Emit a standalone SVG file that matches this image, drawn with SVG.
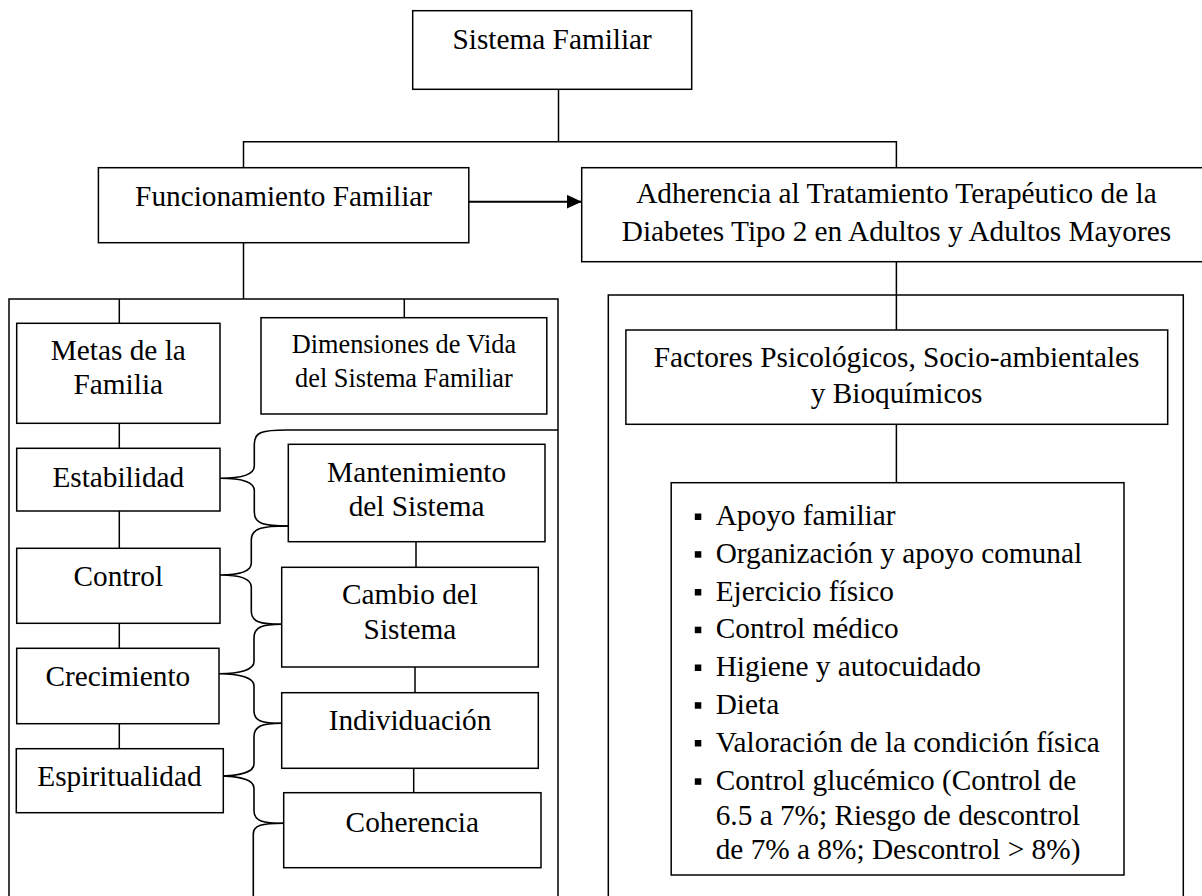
<svg xmlns="http://www.w3.org/2000/svg" width="1202" height="896" viewBox="0 0 1202 896">
<style>
.box{fill:#fff;stroke:#000;stroke-width:1.5}
.ln{fill:none;stroke:#000;stroke-width:1.5}
.br{fill:none;stroke:#000;stroke-width:1.6}
text{font-family:"Liberation Serif","Times New Roman",serif;font-size:29.3px;fill:#000}
.c{text-anchor:middle}
.sm{font-size:26.3px}
.bul{fill:#000}
</style>
<defs>
<marker id="arrow" viewBox="0 0 15 14" refX="15" refY="7" markerWidth="15" markerHeight="14" markerUnits="userSpaceOnUse" orient="auto">
<path d="M0 0 L15 7 L0 14 z" fill="#000"/>
</marker>
</defs>
<rect x="0" y="0" width="1202" height="896" fill="#fff"/>

<g id="connectors">
<path class="ln" d="M558.5 89.3 V141.7 M243.5 167.7 V141.7 H896.4 V167.7"/>
<path class="ln" d="M243.5 242.7 V299"/>
<line x1="469" y1="201.7" x2="581.7" y2="201.7" stroke="#000" stroke-width="2" marker-end="url(#arrow)"/>
<path class="ln" d="M896.4 261.7 V330 M896.4 424.3 V482.7"/>
<path class="ln" d="M119.3 299 V323.3 M404.3 299 V317.7 M119.3 423.3 V448.3 M119.3 511 V548.3 M119.3 623.3 V648.3 M119.3 723.7 V748.7"/>
<path class="ln" d="M416 541.7 V567.3 M415 667 V692.7 M413.7 768.3 V792.7"/>
<path class="br" d="M558 430 H287 C262 430, 254.3 432, 254.3 444 V466 C254.3 474, 242 478.3, 220 478.3 C242 478.3, 254.3 482.6, 254.3 490.6 V512 C254.3 524, 264 526, 288.3 526"/>
<path class="br" d="M288.3 526 C262 526, 251.3 528, 251.3 540 V563 C251.3 571, 240 575, 220 575 C240 575, 251.3 579, 251.3 587 V611 C251.3 622, 260 624.3, 281.7 624.3"/>
<path class="br" d="M281.7 624.3 C262 624.3, 254 627, 254 638 V661.7 C254 669.7, 240 673.7, 219 673.7 C240 673.7, 254 677.7, 254 685.7 V711 C254 721, 262 723.3, 281.7 723.3"/>
<path class="br" d="M281.7 723.3 C262 723.3, 254 726, 254 737 V764 C254 772, 240 776, 218 776 C240 776, 254 780, 254 788 V811 C254 821, 263 823.3, 283.7 823.3"/>
<path class="br" d="M283.7 823.3 C262 823.5, 253.3 825, 253.3 834 V896"/>
</g>

<g id="frame-left">
<path class="ln" d="M9 896 V299 H558 V896"/>
</g>
<g id="frame-right">
<path class="ln" d="M608.3 896 V295 H1183.3 V896"/>
</g>

<g id="sistema-familiar">
<rect class="box" x="412.7" y="10.7" width="279" height="78.6"/>
<text class="c" x="552.2" y="49.3">Sistema Familiar</text>
</g>

<g id="funcionamiento-familiar">
<rect class="box" x="98.4" y="167.7" width="370.4" height="75"/>
<text class="c" x="283.6" y="205.5">Funcionamiento Familiar</text>
</g>

<g id="adherencia">
<rect class="box" x="581.7" y="167.7" width="629" height="94"/>
<text class="c" x="896.4" y="203.3">Adherencia al Tratamiento Terapéutico de la</text>
<text class="c" x="896.4" y="240.7">Diabetes Tipo 2 en Adultos y Adultos Mayores</text>
</g>

<g id="metas">
<rect class="box" x="16.7" y="323.3" width="203.3" height="100"/>
<text class="c" x="118.3" y="360">Metas de la</text>
<text class="c" x="118.3" y="394.3">Familia</text>
</g>

<g id="dimensiones">
<rect class="box" x="261" y="317.7" width="285.8" height="96.3"/>
<text class="c sm" x="403.9" y="352.7">Dimensiones de Vida</text>
<text class="c sm" x="403.9" y="386.7">del Sistema Familiar</text>
</g>

<g id="estabilidad">
<rect class="box" x="16.7" y="448.3" width="203.3" height="62.7"/>
<text class="c" x="118.3" y="486.7">Estabilidad</text>
</g>

<g id="control">
<rect class="box" x="16.7" y="548.3" width="203.3" height="75"/>
<text class="c" x="118.3" y="586">Control</text>
</g>

<g id="crecimiento">
<rect class="box" x="16.7" y="648.3" width="202.3" height="75.4"/>
<text class="c" x="117.8" y="686">Crecimiento</text>
</g>

<g id="espiritualidad">
<rect class="box" x="16.3" y="748.7" width="207" height="64"/>
<text class="c" x="119.5" y="786">Espiritualidad</text>
</g>

<g id="mantenimiento">
<rect class="box" x="288.3" y="444.3" width="256.7" height="97.4"/>
<text class="c" x="416.6" y="481.7">Mantenimiento</text>
<text class="c" x="416.6" y="515.7">del Sistema</text>
</g>

<g id="cambio">
<rect class="box" x="281.7" y="567.3" width="256.6" height="99.7"/>
<text class="c" x="410" y="604.3">Cambio del</text>
<text class="c" x="410" y="639.3">Sistema</text>
</g>

<g id="individuacion">
<rect class="box" x="281.7" y="692.7" width="256.6" height="75.6"/>
<text class="c" x="410" y="730.3">Individuación</text>
</g>

<g id="coherencia">
<rect class="box" x="283.7" y="792.7" width="257.3" height="75"/>
<text class="c" x="412.3" y="832">Coherencia</text>
</g>

<g id="factores">
<rect class="box" x="625.9" y="330" width="541.8" height="94.3"/>
<text class="c" x="896.6" y="366.7">Factores Psicológicos, Socio-ambientales</text>
<text class="c" x="896.6" y="403.3">y Bioquímicos</text>
</g>

<g id="lista-factores">
<rect class="box" x="671.2" y="482.7" width="452.8" height="392.3"/>
<rect class="bul" x="694.8" y="513.5" width="6.5" height="6.5"/>
<text x="715.7" y="525">Apoyo familiar</text>
<rect class="bul" x="694.8" y="551.2" width="6.5" height="6.5"/>
<text x="715.7" y="562.7">Organización y apoyo comunal</text>
<rect class="bul" x="694.8" y="589" width="6.5" height="6.5"/>
<text x="715.7" y="600.5">Ejercicio físico</text>
<rect class="bul" x="694.8" y="626.7" width="6.5" height="6.5"/>
<text x="715.7" y="638.2">Control médico</text>
<rect class="bul" x="694.8" y="664.5" width="6.5" height="6.5"/>
<text x="715.7" y="676">Higiene y autocuidado</text>
<rect class="bul" x="694.8" y="702.2" width="6.5" height="6.5"/>
<text x="715.7" y="713.7">Dieta</text>
<rect class="bul" x="694.8" y="740" width="6.5" height="6.5"/>
<text x="715.7" y="751.5">Valoración de la condición física</text>
<rect class="bul" x="694.8" y="778.3" width="6.5" height="6.5"/>
<text x="715.7" y="789.8">Control glucémico (Control de</text>
<text x="715.7" y="825">6.5 a 7%; Riesgo de descontrol</text>
<text x="715.7" y="859">de 7% a 8%; Descontrol &gt; 8%)</text>
</g>
</svg>
